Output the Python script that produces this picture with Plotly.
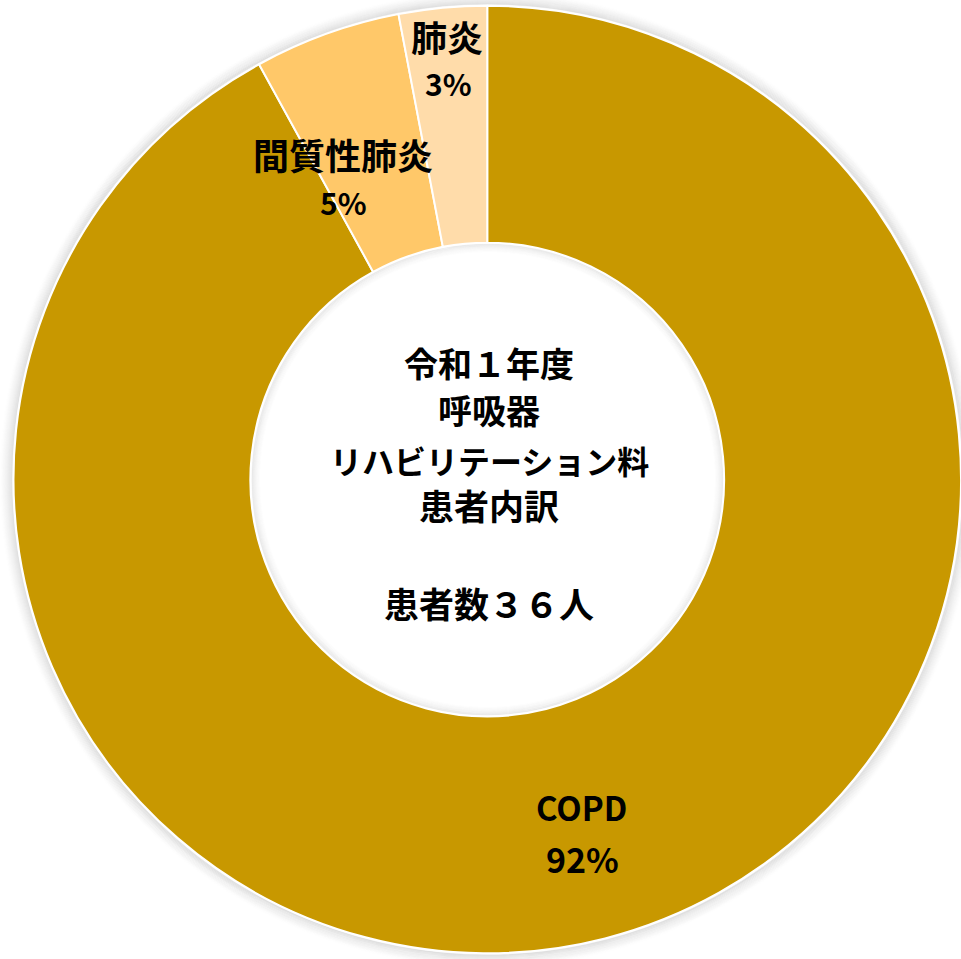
import plotly.graph_objects as go

# Breakdown of respiratory rehabilitation patients (percent of 36)
categories = ["COPD", "間質性肺炎", "肺炎"]
percents = [92, 5, 3]
colors = ["#C89800", "#FFC869", "#FFDCAA"]

center_lines = ["令和１年度", "呼吸器", "リハビリテーション料", "患者内訳", "患者数３６人"]

W, H = 961, 959
CX, CY, R = 487.5, 479.5, 474.0
HOLE = 0.5
FONT = "Noto Sans CJK JP"


def px(x):
    return x / W


def py(y):
    return 1 - y / H


def ring(r, color, width, layer="below"):
    return dict(
        type="circle", xref="paper", yref="paper", layer=layer,
        x0=px(CX - r), x1=px(CX + r), y0=py(CY + r), y1=py(CY - r),
        fillcolor="rgba(0,0,0,0)", line=dict(color=color, width=width),
    )


fig = go.Figure()

fig.add_trace(go.Pie(
    labels=categories,
    values=percents,
    sort=False,
    direction="clockwise",
    rotation=0,
    hole=HOLE,
    marker=dict(colors=colors, line=dict(color="white", width=2)),
    textinfo="none",
    hoverinfo="label+percent",
    showlegend=False,
    domain=dict(x=[(CX - R) / W, 1.0], y=[0, 1]),
))

shapes = []
# soft grey halo just outside the ring
for i in range(14):
    a = 0.085 * (1 - i / 14) ** 1.5
    shapes.append(ring(R + 1.5 + i, f"rgba(0,0,0,{a:.4f})", 1.5))
# faint shading just inside the hole
r_in = R * HOLE
for i in range(10):
    a = 0.06 * (1 - i / 10) ** 1.5
    shapes.append(ring(r_in - 1.5 - i, f"rgba(0,0,0,{a:.4f})", 1.5))

annotations = []


def add_text(txt, x, y, size):
    annotations.append(dict(
        text=f"<b>{txt}</b>", x=px(x), y=py(y), xref="paper", yref="paper",
        xanchor="center", yanchor="middle", showarrow=False,
        font=dict(family=FONT, size=size, color="black"),
    ))


# slice labels: name on one line, percentage below
label_pos = {
    "COPD": ((581, 807, 33), (582, 858, 34)),
    "間質性肺炎": ((343, 154, 36), (343, 202, 30)),
    "肺炎": ((447, 36, 36), (448, 83, 30)),
}
for name, val in zip(categories, percents):
    (x1, y1, s1), (x2, y2, s2) = label_pos[name]
    add_text(name, x1, y1, s1)
    add_text(f"{val}%", x2, y2, s2)

# title block in the hole
center_y = [362, 410, 460, 504, 602]
center_size = [34, 34, 32, 35, 35]
for txt, y, s in zip(center_lines, center_y, center_size):
    add_text(txt, 489, y, s)

fig.update_layout(
    width=W, height=H,
    margin=dict(l=0, r=0, t=0, b=0),
    paper_bgcolor="white",
    plot_bgcolor="white",
    shapes=shapes,
    annotations=annotations,
)

fig.write_html("out.html")
